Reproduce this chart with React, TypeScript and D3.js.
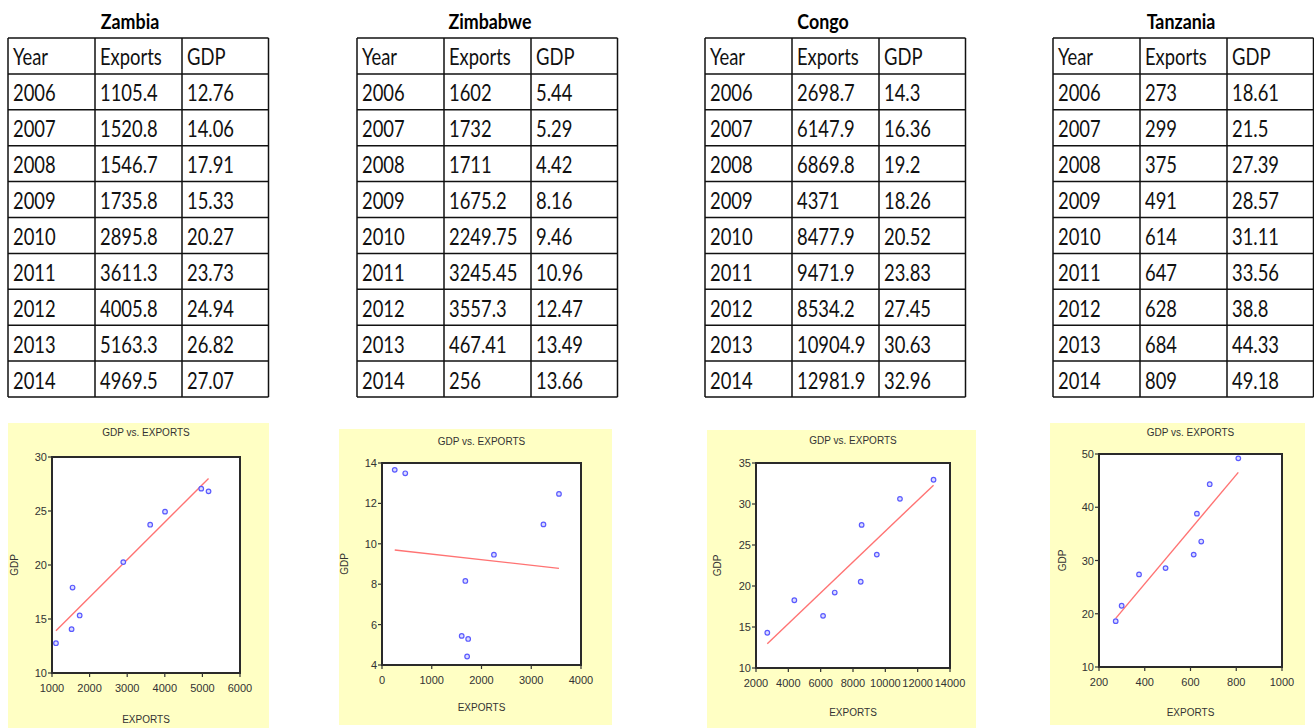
import React from "react";
import * as d3 from "d3";

const years = [2006, 2007, 2008, 2009, 2010, 2011, 2012, 2013, 2014];

const zambiaExports = [1105.4, 1520.8, 1546.7, 1735.8, 2895.8, 3611.3, 4005.8, 5163.3, 4969.5];
const zambiaGDP = [12.76, 14.06, 17.91, 15.33, 20.27, 23.73, 24.94, 26.82, 27.07];
const zimbabweExports = [1602, 1732, 1711, 1675.2, 2249.75, 3245.45, 3557.3, 467.41, 256];
const zimbabweGDP = [5.44, 5.29, 4.42, 8.16, 9.46, 10.96, 12.47, 13.49, 13.66];
const congoExports = [2698.7, 6147.9, 6869.8, 4371, 8477.9, 9471.9, 8534.2, 10904.9, 12981.9];
const congoGDP = [14.3, 16.36, 19.2, 18.26, 20.52, 23.83, 27.45, 30.63, 32.96];
const tanzaniaExports = [273, 299, 375, 491, 614, 647, 628, 684, 809];
const tanzaniaGDP = [18.61, 21.5, 27.39, 28.57, 31.11, 33.56, 38.8, 44.33, 49.18];

const zambiaXTicks = [1000, 2000, 3000, 4000, 5000, 6000];
const zambiaYTicks = [10, 15, 20, 25, 30];
const zimbabweXTicks = [0, 1000, 2000, 3000, 4000];
const zimbabweYTicks = [4, 6, 8, 10, 12, 14];
const congoXTicks = [2000, 4000, 6000, 8000, 10000, 12000, 14000];
const congoYTicks = [10, 15, 20, 25, 30, 35];
const tanzaniaXTicks = [200, 400, 600, 800, 1000];
const tanzaniaYTicks = [10, 20, 30, 40, 50];

const headers = ["Year", "Exports", "GDP"];
const chartTitle = "GDP vs. EXPORTS";

type Country = {
  name: string;
  exports: number[];
  gdp: number[];
  xTicks: number[];
  yTicks: number[];
  table: { x: number; titleX: number };
  panel: { x0: number; x1: number; y0: number; y1: number };
  plot: { l: number; r: number; t: number; b: number };
  titleY: number;
  xLabelY: number;
  yLabelX: number;
};

const countries: Country[] = [
  {
    name: "Zambia", exports: zambiaExports, gdp: zambiaGDP, xTicks: zambiaXTicks, yTicks: zambiaYTicks,
    table: { x: 8, titleX: 130 },
    panel: { x0: 8, x1: 269, y0: 423, y1: 728 },
    plot: { l: 52, r: 240, t: 457, b: 673 },
    titleY: 433, xLabelY: 720, yLabelX: 15,
  },
  {
    name: "Zimbabwe", exports: zimbabweExports, gdp: zimbabweGDP, xTicks: zimbabweXTicks, yTicks: zimbabweYTicks,
    table: { x: 357, titleX: 490 },
    panel: { x0: 339, x1: 612, y0: 429, y1: 725 },
    plot: { l: 382, r: 581, t: 463, b: 665 },
    titleY: 442, xLabelY: 708, yLabelX: 345,
  },
  {
    name: "Congo", exports: congoExports, gdp: congoGDP, xTicks: congoXTicks, yTicks: congoYTicks,
    table: { x: 705, titleX: 823 },
    panel: { x0: 707, x1: 976, y0: 430, y1: 728 },
    plot: { l: 756, r: 950, t: 463, b: 668 },
    titleY: 441, xLabelY: 713, yLabelX: 718,
  },
  {
    name: "Tanzania", exports: tanzaniaExports, gdp: tanzaniaGDP, xTicks: tanzaniaXTicks, yTicks: tanzaniaYTicks,
    table: { x: 1053, titleX: 1181 },
    panel: { x0: 1050, x1: 1305, y0: 423, y1: 725 },
    plot: { l: 1099, r: 1282, t: 454, b: 667 },
    titleY: 433, xLabelY: 713, yLabelX: 1063,
  },
];

const TABLE_TOP = 38;
const ROW_H = 35.9;
const COL_W = [87, 87, 86.5];
const tableFont = "Lato, 'Open Sans', sans-serif";
const chartFont = "'Liberation Sans', Arial, sans-serif";

function CellText({ x, y, text, bold = false, size = 23 }: { x: number; y: number; text: string; bold?: boolean; size?: number }) {
  return (
    <text
      transform={`translate(${x},${y}) scale(0.8,1)`}
      fontFamily={tableFont}
      fontSize={size}
      fontWeight={bold ? 700 : 400}
      fill="#111"
    >
      {text}
    </text>
  );
}

function Table({ c }: { c: Country }) {
  const x0 = c.table.x;
  const colX = [x0, x0 + COL_W[0], x0 + COL_W[0] + COL_W[1], x0 + COL_W[0] + COL_W[1] + COL_W[2]];
  const nRows = years.length + 1;
  const bottom = TABLE_TOP + nRows * ROW_H;
  const rows: string[][] = [headers, ...years.map((yr, i) => [String(yr), String(c.exports[i]), String(c.gdp[i])])];
  // title width approximation for centering
  return (
    <g>
      <text
        transform={`translate(${c.table.titleX},29) scale(0.85,1)`}
        textAnchor="middle"
        fontFamily={tableFont}
        fontSize={21}
        fontWeight={700}
        fill="#000"
      >
        {c.name}
      </text>
      {d3.range(nRows + 1).map((i) => (
        <line key={"h" + i} x1={colX[0]} x2={colX[3]} y1={TABLE_TOP + i * ROW_H} y2={TABLE_TOP + i * ROW_H} stroke="#111" strokeWidth={1.5} />
      ))}
      {colX.map((cx, i) => (
        <line key={"v" + i} x1={cx} x2={cx} y1={TABLE_TOP} y2={bottom} stroke="#111" strokeWidth={1.5} />
      ))}
      {rows.map((r, ri) =>
        r.map((t, ci) => (
          <CellText key={ri + "-" + ci} x={colX[ci] + 5} y={TABLE_TOP + (ri + 1) * ROW_H - 8.5} text={t} />
        ))
      )}
    </g>
  );
}

function Scatter({ c }: { c: Country }) {
  const { plot, panel } = c;
  const xs = d3.scaleLinear().domain(d3.extent(c.xTicks) as [number, number]).range([plot.l, plot.r]);
  const ys = d3.scaleLinear().domain(d3.extent(c.yTicks) as [number, number]).range([plot.b, plot.t]);
  const mx = d3.mean(c.exports)!;
  const my = d3.mean(c.gdp)!;
  const sxy = d3.sum(c.exports.map((x, i) => (x - mx) * (c.gdp[i] - my)));
  const sxx = d3.sum(c.exports.map((x) => (x - mx) * (x - mx)));
  const slope = sxy / sxx;
  const icpt = my - slope * mx;
  const [xmin, xmax] = d3.extent(c.exports) as [number, number];
  const fit = d3.line<number>().x((x) => xs(x)).y((x) => ys(icpt + slope * x));
  const cx = (plot.l + plot.r) / 2;
  const midPanel = (panel.x0 + panel.x1) / 2;
  return (
    <g>
      <rect x={panel.x0} y={panel.y0} width={panel.x1 - panel.x0} height={panel.y1 - panel.y0} fill="#FFFFC4" />
      <rect x={plot.l} y={plot.t} width={plot.r - plot.l} height={plot.b - plot.t} fill="#fff" stroke="#2a2a2a" strokeWidth={2} />
      <text x={cx} y={c.titleY} textAnchor="middle" dominantBaseline="middle" fontFamily={chartFont} fontSize={10} fill="#333">
        {chartTitle}
      </text>
      {c.yTicks.map((t) => (
        <g key={"y" + t}>
          <line x1={plot.l - 4} x2={plot.l} y1={ys(t)} y2={ys(t)} stroke="#333" strokeWidth={1.2} />
          <text x={plot.l - 5} y={ys(t)} textAnchor="end" dominantBaseline="central" fontFamily={chartFont} fontSize={11} fill="#333">
            {t}
          </text>
        </g>
      ))}
      {c.xTicks.map((t) => (
        <g key={"x" + t}>
          <line x1={xs(t)} x2={xs(t)} y1={plot.b} y2={plot.b + 4} stroke="#333" strokeWidth={1.2} />
          <text x={xs(t)} y={plot.b + 15} textAnchor="middle" dominantBaseline="central" fontFamily={chartFont} fontSize={11} fill="#333">
            {t}
          </text>
        </g>
      ))}
      <path d={fit([xmin, xmax]) || ""} stroke="#FF7373" strokeWidth={1.4} fill="none" />
      {c.exports.map((x, i) => (
        <circle key={"p" + i} cx={xs(x)} cy={ys(c.gdp[i])} r={2.3} fill="#dcdcff" stroke="#5a5aff" strokeWidth={1.2} />
      ))}
      <text x={cx} y={c.xLabelY} textAnchor="middle" dominantBaseline="middle" fontFamily={chartFont} fontSize={10} fill="#333">
        EXPORTS
      </text>
      <text
        transform={`translate(${c.yLabelX},${(plot.t + plot.b) / 2}) rotate(-90)`}
        textAnchor="middle"
        dominantBaseline="middle"
        fontFamily={chartFont}
        fontSize={10}
        fill="#333"
      >
        GDP
      </text>
      {midPanel ? null : null}
    </g>
  );
}

export default function App() {
  return (
    <svg width={1314} height={728} style={{ position: "absolute", left: 0, top: 0, background: "#fff" }}>
      <rect x={0} y={0} width={1314} height={728} fill="#fff" />
      {countries.map((c) => (
        <g key={c.name}>
          <Table c={c} />
          <Scatter c={c} />
        </g>
      ))}
    </svg>
  );
}
